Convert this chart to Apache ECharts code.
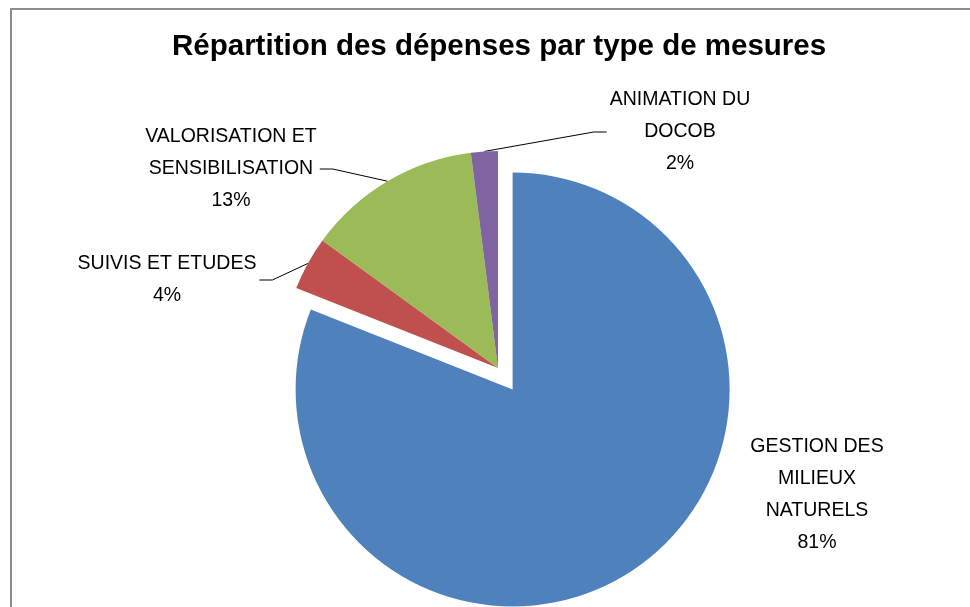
<!DOCTYPE html>
<html>
<head>
<meta charset="utf-8">
<script src="https://cdn.jsdelivr.net/npm/echarts@6/dist/echarts.min.js"></script>
<style>
html, body { margin: 0; padding: 0; background: #fff; }
#myChart { width: 970px; height: 607px; }
</style>
</head>
<body>
<div id="myChart"></div>
<script>
// données
const categories = ['GESTION DES\nMILIEUX\nNATURELS', 'SUIVIS ET ETUDES', 'VALORISATION ET\nSENSIBILISATION', 'ANIMATION DU\nDOCOB'];
const values = [81, 4, 13, 2];
const colors = ['#4F81BD', '#C0504D', '#9BBB59', '#8064A2'];

// position du centre de chaque étiquette (layout), côté du trait
const labelSpots = [
    { x: 817, y: 495, side: 0 },
    { x: 167, y: 280, side: -1 },
    { x: 231, y: 169, side: -1 },
    { x: 680, y: 132, side: 1 }
];

const cx = 498, cy = 368, R = 217, explode = 26;
// la part "GESTION" est détachée le long de sa bissectrice
const total = values.reduce(function (a, b) { return a + b; }, 0);
const mid = values[0] / total * Math.PI; // angle depuis midi, sens horaire
const ox = explode * Math.sin(mid), oy = -explode * Math.cos(mid);

const labelFont = {
    show: true,
    position: 'outside',
    formatter: '{b}\n{d}%',
    fontFamily: 'Liberation Sans, Arial, sans-serif',
    fontSize: 19.5,
    lineHeight: 32,
    color: '#000'
};

function layoutLabel(params) {
    const s = labelSpots[params.dataIndex];
    const out = { x: s.x, y: s.y, align: 'center', verticalAlign: 'middle' };
    if (s.side !== 0 && params.labelLinePoints) {
        const p0 = params.labelLinePoints[0];
        const half = params.labelRect.width / 2;
        const endX = s.side < 0 ? s.x + half + 3 : s.x - half - 3;
        const elbowX = s.side < 0 ? endX + 13 : endX - 13;
        out.labelLinePoints = [p0, [elbowX, s.y], [endX, s.y]];
    }
    return out;
}

// visible = true pour la part dessinée dans cette série
function buildData(visibleFn) {
    return categories.map(function (name, i) {
        const on = visibleFn(i);
        return {
            name: name,
            value: values[i],
            itemStyle: { color: on ? colors[i] : 'rgba(0,0,0,0)' },
            label: { show: on },
            labelLine: { show: on && i !== 0 }
        };
    });
}

const pieBase = {
    type: 'pie',
    radius: R,
    startAngle: 90,
    clockwise: true,
    percentPrecision: 0,
    silent: true,
    itemStyle: { borderWidth: 0 },
    emphasis: { disabled: true },
    label: labelFont,
    labelLine: {
        show: true,
        length: 20,
        length2: 12,
        lineStyle: { color: '#000', width: 1 }
    },
    labelLayout: layoutLabel
};

let myEchart = echarts.init(document.getElementById('myChart'));
myEchart.setOption({
    animation: false,
    title: {
        text: 'Répartition des dépenses par type de mesures',
        left: 167,
        top: 27,
        textStyle: {
            fontFamily: 'Liberation Sans, Arial, sans-serif',
            fontSize: 29.5,
            fontWeight: 'bold',
            color: '#000'
        }
    },
    graphic: [{
        type: 'rect',
        shape: { x: 11, y: 9, width: 1000, height: 700 },
        style: { fill: 'none', stroke: '#8c8c8c', lineWidth: 2 },
        silent: true
    }],
    series: [
        Object.assign({}, pieBase, {
            name: 'detache',
            center: [cx + ox, cy + oy],
            data: buildData(function (i) { return i === 0; })
        }),
        Object.assign({}, pieBase, {
            name: 'reste',
            center: [cx, cy],
            data: buildData(function (i) { return i !== 0; })
        })
    ]
});
window.addEventListener('resize', function () {
    myEchart.resize();
});
</script>
</body>
</html>
